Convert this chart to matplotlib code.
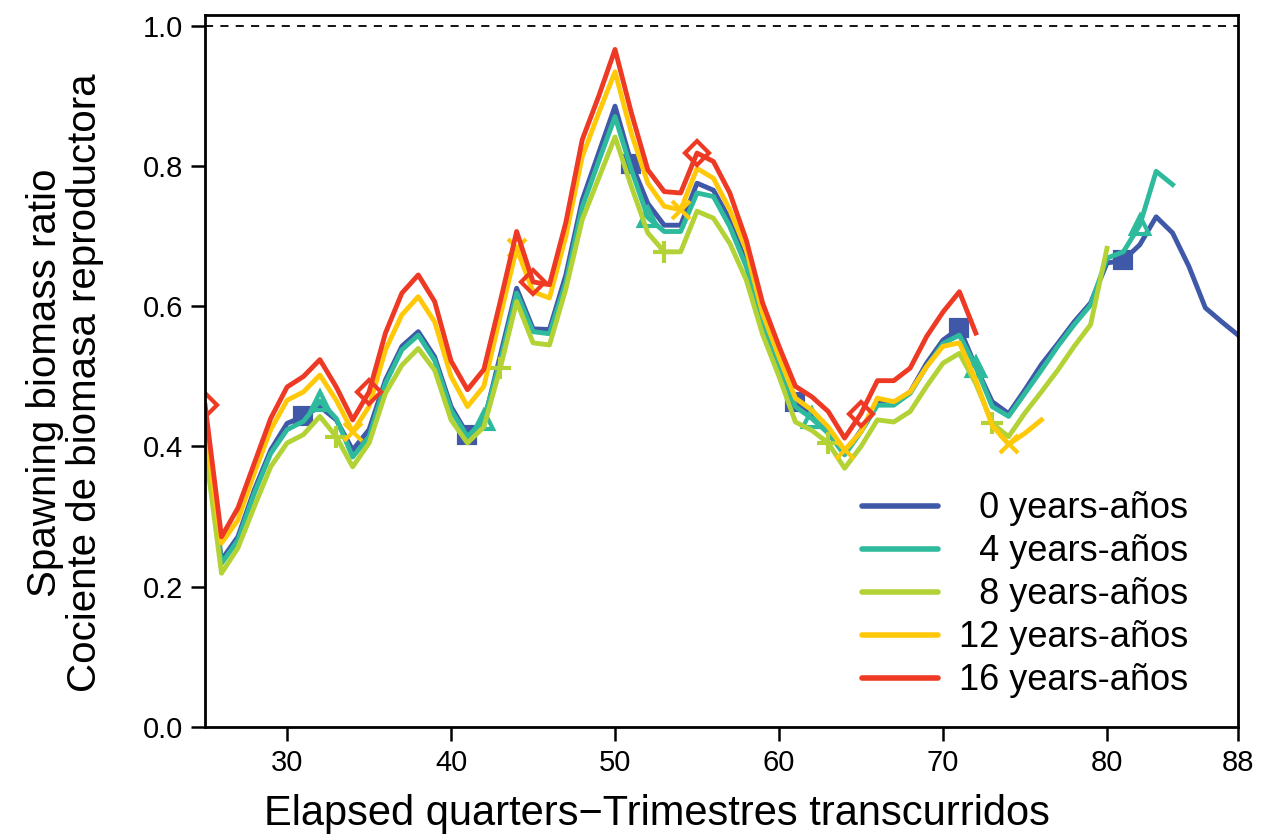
import numpy as np
import matplotlib.pyplot as plt

plt.rcParams['font.family'] = ['Liberation Sans', 'DejaVu Sans']

# Spawning biomass ratio by quarter, for each retrospective peel
blue_q = np.arange(25, 89)
blue = [0.42, 0.238, 0.271, 0.338, 0.395, 0.433, 0.443, 0.457, 0.438, 0.395,
        0.424, 0.495, 0.543, 0.564, 0.528, 0.457, 0.417, 0.435, 0.53, 0.626,
        0.568, 0.567, 0.645, 0.752, 0.819, 0.886, 0.804, 0.747, 0.716, 0.716,
        0.776, 0.766, 0.724, 0.662, 0.585, 0.523, 0.464, 0.447, 0.423, 0.390,
        0.423, 0.462, 0.462, 0.478, 0.519, 0.552, 0.569, 0.514, 0.464, 0.447,
        0.481, 0.517, 0.547, 0.578, 0.605, 0.662, 0.666, 0.688, 0.728, 0.705,
        0.657, 0.598, 0.578, 0.559]

teal_q = np.arange(25, 85)
teal = [0.415, 0.233, 0.266, 0.333, 0.390, 0.424, 0.436, 0.465, 0.440, 0.385,
        0.414, 0.490, 0.538, 0.559, 0.523, 0.452, 0.414, 0.438, 0.522, 0.619,
        0.564, 0.561, 0.635, 0.742, 0.807, 0.871, 0.795, 0.727, 0.707, 0.707,
        0.762, 0.757, 0.714, 0.657, 0.578, 0.515, 0.457, 0.440, 0.419, 0.388,
        0.421, 0.459, 0.459, 0.476, 0.514, 0.547, 0.559, 0.514, 0.457, 0.443,
        0.476, 0.509, 0.543, 0.574, 0.602, 0.669, 0.678, 0.716, 0.793, 0.774]

green_q = np.arange(25, 81)
green = [0.40, 0.219, 0.255, 0.314, 0.371, 0.405, 0.417, 0.443, 0.414, 0.371,
         0.405, 0.476, 0.516, 0.540, 0.509, 0.438, 0.405, 0.428, 0.512, 0.607,
         0.548, 0.545, 0.625, 0.724, 0.783, 0.842, 0.771, 0.705, 0.678, 0.678,
         0.736, 0.726, 0.690, 0.638, 0.560, 0.500, 0.435, 0.423, 0.405, 0.369,
         0.400, 0.438, 0.435, 0.450, 0.486, 0.519, 0.533, 0.490, 0.433, 0.414,
         0.448, 0.478, 0.509, 0.543, 0.574, 0.683]

yellow_q = np.arange(25, 77)
yellow = [0.425, 0.262, 0.295, 0.362, 0.424, 0.466, 0.478, 0.502, 0.466, 0.421,
          0.457, 0.538, 0.588, 0.614, 0.578, 0.500, 0.457, 0.486, 0.586, 0.683,
          0.621, 0.612, 0.70, 0.814, 0.876, 0.935, 0.847, 0.776, 0.743, 0.738,
          0.797, 0.783, 0.738, 0.681, 0.59, 0.528, 0.469, 0.452, 0.428, 0.395,
          0.421, 0.469, 0.464, 0.478, 0.514, 0.543, 0.548, 0.495, 0.43, 0.403,
          0.419, 0.438]

red_q = np.arange(25, 73)
red = [0.459, 0.271, 0.312, 0.376, 0.440, 0.485, 0.500, 0.524, 0.485, 0.438,
       0.478, 0.562, 0.619, 0.645, 0.607, 0.522, 0.481, 0.510, 0.607, 0.707,
       0.635, 0.631, 0.72, 0.838, 0.900, 0.967, 0.876, 0.795, 0.764, 0.762,
       0.819, 0.807, 0.762, 0.695, 0.605, 0.543, 0.486, 0.471, 0.450, 0.412,
       0.447, 0.494, 0.494, 0.512, 0.557, 0.592, 0.621, 0.562]

labels = ['\u20070 years-años', '\u20074 years-años', '\u20078 years-años',
          '12 years-años', '16 years-años']
colors = ['#3F58A8', '#2EBA9C', '#B2D235', '#FFC90A', '#EE3A24']

fig = plt.figure(figsize=(12.66, 8.4), dpi=100)
ax = fig.add_axes([0.162, 0.135, 0.816, 0.847])

# (x, y, marker, first marker index, filled, marker size)
series = [(blue_q, blue, 's', 6, True, 11.5),
          (teal_q, teal, '^', 7, False, 13.5),
          (green_q, green, '+', 8, True, 16),
          (yellow_q, yellow, 'x', 9, True, 13.5),
          (red_q, red, 'D', 0, False, 12)]

handles = []
for (q, v, m, start, filled, ms), c, lab in zip(series, colors, labels):
    ax.plot(q, v, color=c, lw=3.5, marker=m, markevery=slice(start, None, 10),
            ms=ms, mew=3, mfc=c if filled else 'none', mec=c)
    h, = ax.plot([], [], color=c, lw=4, solid_capstyle='round', label=lab)
    handles.append(h)

ax.axhline(1.0, color='black', lw=1.3, ls=(0, (4.5, 4)))

ax.set_xlim(25, 88)
ax.set_ylim(0, 1.016)
ax.set_xticks([30, 40, 50, 60, 70, 80, 88])
ax.set_yticks([0.0, 0.2, 0.4, 0.6, 0.8, 1.0])
ax.set_yticklabels(['0.0', '0.2', '0.4', '0.6', '0.8', '1.0'])
ax.tick_params(direction='out', length=10, width=1.8, labelsize=21, pad=6)
for s in ax.spines.values():
    s.set_linewidth(2)

ax.set_xlabel('Elapsed quarters\u2212Trimestres transcurridos', fontsize=30)
ax.xaxis.set_label_coords(0.437, -0.095)
ax.set_ylabel('Spawning biomass ratio\nCociente de biomasa reproductora', fontsize=29,
              linespacing=1.05)
ax.yaxis.set_label_coords(-0.098, 0.483)

ax.legend(handles=handles, loc='lower right', bbox_to_anchor=(0.952, 0.04), frameon=False,
          fontsize=26, handlelength=2.1, handletextpad=0.6, labelspacing=0.22,
          borderpad=0, borderaxespad=0)

fig.savefig('out.png', dpi=100)
